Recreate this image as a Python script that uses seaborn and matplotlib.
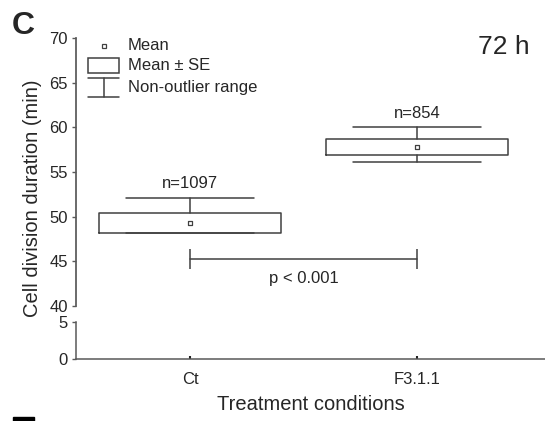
"""Cell division duration at 72 h: mean, SE box and non-outlier range, broken y axis."""

import matplotlib

matplotlib.use("Agg")
import matplotlib.pyplot as plt
import numpy as np
import seaborn as sns
from matplotlib.lines import Line2D
from matplotlib.patches import Rectangle

GROUPS = ["Ct", "F3.1.1"]
COUNTS = [1097, 854]
MEANS = [49.3, 57.8]
SE = [1.12, 0.87]
RANGE_LOW = [48.2, 56.1]
RANGE_HIGH = [52.1, 60.0]
BRACKET_Y = 45.25
P_LABEL = "p < 0.001"
UPPER_TICKS = [40, 45, 50, 55, 60, 65, 70]
LOWER_TICKS = [0, 5]

W, H = 545, 421
LINE = "#404040"
SPINE = "#595959"


def frac(x0, y0, x1, y1):
    # pixel box (top-left origin) -> figure fraction rect
    return [x0 / W, 1 - y1 / H, (x1 - x0) / W, (y1 - y0) / H]


def fpt(x, y):
    return x / W, 1 - y / H


sns.set_theme(style="ticks")
plt.rcParams["font.family"] = ["Liberation Sans", "DejaVu Sans"]

fig = plt.figure(figsize=(W / 100, H / 100), dpi=100)
ax = fig.add_axes(frac(76, 38, 545, 306))
ax_low = fig.add_axes(frac(76, 322, 545, 359), sharex=ax)

pos = np.arange(len(GROUPS))
stats = [
    dict(med=m, q1=m - s, q3=m + s, whislo=lo, whishi=hi, fliers=[])
    for m, s, lo, hi in zip(MEANS, SE, RANGE_LOW, RANGE_HIGH)
]
line_kw = dict(color=LINE, linewidth=1.1)
ax.bxp(
    stats,
    positions=pos,
    widths=0.8,
    capwidths=0.565,
    showfliers=False,
    manage_ticks=False,
    boxprops=line_kw,
    whiskerprops=line_kw,
    capprops=line_kw,
    medianprops=dict(linewidth=0),
)
sns.scatterplot(
    x=pos, y=MEANS, marker="s", s=12, color="white", edgecolor=LINE,
    linewidth=0.9, ax=ax, zorder=5, legend=False,
)

for x, hi, n in zip(pos, RANGE_HIGH, COUNTS):
    ax.text(x, hi + 1.6, f"n={n}", ha="center", va="center", fontsize=12)

# significance bracket
ax.plot([pos[0], pos[1]], [BRACKET_Y, BRACKET_Y], color=LINE, linewidth=1.1)
ax.vlines([pos[0], pos[1]], BRACKET_Y - 1.15, BRACKET_Y + 1.15, color=LINE, linewidth=1.1)
ax.text((pos[0] + pos[1]) / 2, BRACKET_Y - 2.15, P_LABEL, ha="center", va="center", fontsize=12)

ax.set_ylim(40, 70)
ax.set_yticks(UPPER_TICKS)
ax.set_xlim(-0.502, 1.564)
for side in ["top", "right", "bottom"]:
    ax.spines[side].set_visible(False)
ax.spines["left"].set_color(SPINE)
ax.tick_params(axis="x", bottom=False, labelbottom=False)
ax.tick_params(axis="y", direction="out", length=3, width=1, color=SPINE, labelsize=12, pad=3)

ax_low.set_ylim(0, 5)
ax_low.set_yticks(LOWER_TICKS)
ax_low.set_xticks(pos)
ax_low.set_xticklabels(GROUPS)
for side in ["top", "right"]:
    ax_low.spines[side].set_visible(False)
for side in ["left", "bottom"]:
    ax_low.spines[side].set_color(SPINE)
    ax_low.spines[side].set_linewidth(1.1)
ax_low.tick_params(axis="y", direction="out", length=3, width=1, color=SPINE, labelsize=12, pad=3)
ax_low.tick_params(axis="x", direction="in", length=2, width=1.5, color="#222222", labelsize=12, pad=9)
ax_low.set_xlabel("Treatment conditions", fontsize=14.5, labelpad=6)
ax.patch.set_alpha(0)
ax_low.patch.set_alpha(0)

fig.text(*fpt(33, 198), "Cell division duration (min)", rotation=90,
         ha="center", va="center", fontsize=14.5)

# hand-made legend
fig.add_artist(Line2D(*zip(fpt(103.5, 46)), marker="s", markersize=3.2, color=LINE,
                      markerfacecolor="white", markeredgewidth=0.9, transform=fig.transFigure))
bx, by = fpt(88, 73)
fig.add_artist(Rectangle((bx, by), 31 / W, 15 / H, fill=False, edgecolor=LINE,
                         linewidth=1.1, transform=fig.transFigure))
for yy in (78, 97):
    fig.add_artist(Line2D(*zip(fpt(88, yy), fpt(119, yy)), color=LINE, linewidth=1.1,
                          transform=fig.transFigure))
fig.add_artist(Line2D(*zip(fpt(103.5, 78), fpt(103.5, 97)), color=LINE, linewidth=1.1,
                      transform=fig.transFigure))
for yy, label in [(46, "Mean"), (65.5, "Mean \u00b1 SE"), (87.5, "Non-outlier range")]:
    fig.text(*fpt(128, yy), label, ha="left", va="center", fontsize=12)

fig.text(*fpt(530, 47), "72 h", ha="right", va="center", fontsize=19)
fig.text(*fpt(23, 26), "C", ha="center", va="center", fontsize=23, fontweight="bold")

# top edge of the next panel's letter, cut by the figure border
dx, dy = fpt(13, 421)
fig.add_artist(Rectangle((dx, dy), 21 / W, 4 / H, color="black", transform=fig.transFigure))

fig.savefig("out.png", dpi=100)
